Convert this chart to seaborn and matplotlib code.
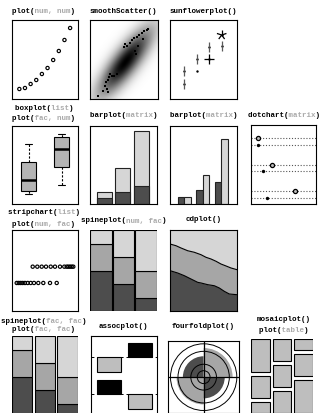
import numpy as np
import pandas as pd
import matplotlib
matplotlib.use("Agg")
import matplotlib.pyplot as plt
from matplotlib.patches import Rectangle, Wedge, Circle
from matplotlib.colors import LinearSegmentedColormap
import seaborn as sns

W, H, DPI = 322, 414, 100

# ---------------- data ----------------
scatter_x = list(range(1, 11))
scatter_y = [10, 11, 15, 19, 25, 31, 39, 48, 59, 71]

smooth_center = (35.0, 37.0)
smooth_angle = 53.0
smooth_spread = (20.0, 6.0)
smooth_x = [8.3, 13.3, 15, 16, 17.7, 19, 20, 21.7, 24.3, 26.7, 16.7, 18.3,
            34.3, 36.7, 40, 41.7, 44.3, 46.7, 49, 51.7, 54.3, 56.7, 58.3,
            45, 45.7, 48.3, 53.3, 35]
smooth_y = [3.3, 7.7, 13.3, 16.7, 19.3, 21.7, 25, 23.3, 23.3, 25, 10, 6.7,
            51.7, 53.3, 55.7, 59, 61, 62.3, 64.3, 65.7, 67.7, 69, 70,
            47.7, 45, 53.3, 60, 55]

sun_x = [1, 1, 2, 2, 3, 3, 4, 4]
sun_y = [28, 15, 28.3, 40, 52, 40, 53.3, 64]
sun_n = [2, 2, 1, 2, 2, 4, 2, 5]

box_a = [10, 12.7, 24, 41.7, 60]
box_b = [19.3, 37.3, 55, 66.7, 70]

bar_groups = ["A", "B", "C"]
bar_dark = [1, 2, 3]
bar_light = [1, 4, 9]

dot_open = [1, 4, 9]
dot_filled = [1, 2, 3]

strip_top = [20.7, 25.3, 29.7, 34, 38.7, 43, 48, 52.3, 54.7, 56.3, 58, 59.7, 61.3]
strip_bottom = [4.7, 6.7, 8.7, 10.7, 13, 15.7, 18.7, 22, 26.3, 31.3, 38, 44.7]

spine_dark = [3, 2, 1]
spine_mid = [2, 2, 2]
spine_light = [1, 2, 3]

cd_x_upper = [0, 6, 11, 17.7, 24.3, 31, 36, 41, 46, 51, 56, 61, 67]
cd_upper = [0.827, 0.806, 0.778, 0.744, 0.725, 0.695, 0.663, 0.642, 0.614,
            0.58, 0.556, 0.531, 0.51]
cd_x_lower = [0, 7.7, 14.3, 21, 27.7, 31, 37.7, 44.3, 49.3, 54.3, 59.3, 67]
cd_lower = [0.498, 0.469, 0.436, 0.395, 0.354, 0.346, 0.325, 0.312, 0.284,
            0.243, 0.21, 0.201]

assoc_resid = [[-1.0, 1.0], [1.0, -1.0]]

ff_counts = [34, 66, 58, 35]  # top-left, top-right, bottom-left, bottom-right

mosaic_props = [[3, 2, 1], [2, 2, 2], [1, 2, 3]]

# ---------------- style ----------------
DARK = "#4d4d4d"
MID = "#a6a6a6"
LIGHT = "#d6d6d6"
BOXFILL = "#b4b4b4"
MOSFILL = "#bebebe"
ARG = "#aaaaaa"
LW = 0.8

sns.set_theme(style="white")
plt.rcParams["axes.edgecolor"] = "black"
plt.rcParams["axes.linewidth"] = LW

fig = plt.figure(figsize=(W / DPI, H / DPI), dpi=DPI)


def panel(x0, y0, x1, y1, frame=True):
    ax = fig.add_axes([x0 / W, 1 - y1 / H, (x1 - x0) / W, (y1 - y0) / H])
    for s in ax.spines.values():
        s.set_visible(frame)
        s.set_color("black")
        s.set_linewidth(LW)
    ax.set_facecolor("white")
    return ax


def finish(ax):
    ax.set_xticks([])
    ax.set_yticks([])
    ax.set_xlabel("")
    ax.set_ylabel("")


FS = 5.4
CW = FS * DPI / 72 * 0.6


def title(cx, cy, parts):
    full = "".join(t for t, _ in parts)
    x = (cx - len(full) * CW / 2) / W
    for t_keep, c in parts:
        masked = "".join(t if (t == t_keep and cc == c) else " " * len(t)
                         for t, cc in parts)
        fig.text(x, 1 - cy / H, masked, color=c, fontsize=FS,
                 family="Liberation Mono", weight="bold", ha="left", va="center")


def call(name, args=None):
    if args is None:
        return [(name + "()", "black")]
    return [(name + "(", "black"), (args, ARG), (")", "black")]


C1, C2, C3, C4 = (12, 78), (90, 157), (170, 237), (251, 316)
MS = 5.5  # open circle marker size

# ---- plot(num, num) ----
ax = panel(C1[0], 21, C1[1], 100)
sns.scatterplot(x=scatter_x, y=scatter_y, ax=ax, s=MS, facecolor="none",
                edgecolor="black", linewidth=0.85)
ax.set_xlim(-0.3, 11.4)
ax.set_ylim(0, 79)
finish(ax)

# ---- smoothScatter() ----
ax = panel(C2[0], 21, 158, 100)
gx = np.linspace(0, 68, 137)
gy = np.linspace(0, 79, 159)
GX, GY = np.meshgrid(gx, gy)
th = np.deg2rad(smooth_angle)
u = (GX - smooth_center[0]) * np.cos(th) + (GY - smooth_center[1]) * np.sin(th)
v = -(GX - smooth_center[0]) * np.sin(th) + (GY - smooth_center[1]) * np.cos(th)
dens = np.exp(-0.5 * ((u / smooth_spread[0]) ** 2 + (v / smooth_spread[1]) ** 2))
ramp = LinearSegmentedColormap.from_list("ramp", ["white", "black"])
ax.imshow(dens ** 0.5, extent=(0, 68, 0, 79), origin="lower", cmap=ramp,
          vmin=0, vmax=1, aspect="auto", interpolation="bilinear")
sns.scatterplot(x=smooth_x, y=smooth_y, ax=ax, s=1.2, marker="s",
                color="black", linewidth=0)
ax.set_xlim(0, 68)
ax.set_ylim(0, 79)
finish(ax)

# ---- sunflowerplot() ----
ax = panel(C3[0], 21, C3[1], 100)
ax.set_xlim(-0.15, 5.23)
ax.set_ylim(0, 79)
petal_x = 5 / 12.45
petal_y = 5
for x, y, n in zip(sun_x, sun_y, sun_n):
    if n > 1:
        col = "#5a5a5a" if n == 2 else "black"
        for k in range(n):
            a = np.pi / 2 + 2 * np.pi * k / n
            ax.plot([x, x + petal_x * np.cos(a)], [y, y + petal_y * np.sin(a)],
                    color=col, lw=0.9, solid_capstyle="butt")
sns.scatterplot(x=sun_x, y=sun_y, ax=ax, s=3, color="black", linewidth=0)
finish(ax)

# ---- boxplot(list) ----
ax = panel(C1[0], 127, C1[1], 205)
box_df = pd.DataFrame({"group": ["a"] * len(box_a) + ["b"] * len(box_b),
                       "value": box_a + box_b})
sns.boxplot(data=box_df, x="group", y="value", ax=ax, color=BOXFILL,
            saturation=1, width=0.46, linecolor="black", linewidth=0.8,
            showfliers=False, whis=(0, 100),
            whiskerprops={"linestyle": (0, (2, 1.5))},
            medianprops={"linewidth": 1.8})
ax.set_xlim(-0.5, 1.5)
ax.set_ylim(0, 78)
finish(ax)

# ---- barplot(matrix), stacked ----
ax = panel(C2[0], 127, C2[1], 205)
bar_df = pd.DataFrame({"group": bar_groups, "dark": bar_dark, "light": bar_light})
bar_df["total"] = bar_df["dark"] + bar_df["light"]
sns.barplot(data=bar_df, x="group", y="total", ax=ax, color=LIGHT, saturation=1,
            width=0.82, errorbar=None, edgecolor="#222222", linewidth=0.8)
sns.barplot(data=bar_df, x="group", y="dark", ax=ax, color=DARK, saturation=1,
            width=0.82, errorbar=None, edgecolor="#222222", linewidth=0.8)
ax.set_xlim(-0.77, 2.85)
ax.set_ylim(0, 12.9)
finish(ax)

# ---- barplot(matrix), beside ----
ax = panel(C3[0], 127, C3[1], 205)
long_df = pd.DataFrame({"group": bar_groups * 2,
                        "series": ["dark"] * 3 + ["light"] * 3,
                        "value": bar_dark + bar_light})
sns.barplot(data=long_df, x="group", y="value", hue="series",
            hue_order=["dark", "light"], palette=[DARK, LIGHT], saturation=1,
            width=0.7, errorbar=None, edgecolor="#222222", linewidth=0.8,
            legend=False, ax=ax)
ax.set_xlim(-0.77, 2.85)
ax.set_ylim(0, 10.8)
finish(ax)

# ---- dotchart(matrix) ----
ax = panel(C4[0], 126, C4[1], 205)
rows_open = [10 - 4 * i for i in range(len(dot_open))]
rows_filled = [9 - 4 * i for i in range(len(dot_filled))]
for yy in rows_open + rows_filled:
    ax.axhline(yy, color="#555555", lw=0.8, linestyle=(0, (1, 1.6)))
sns.scatterplot(x=dot_open, y=rows_open, ax=ax, s=9, facecolor="#bdbdbd",
                edgecolor="black", linewidth=0.9, zorder=3)
sns.scatterplot(x=dot_filled, y=rows_filled, ax=ax, s=6, color="black",
                linewidth=0, zorder=3)
ax.set_xlim(-0.56, 13.67)
ax.set_ylim(0.05, 12.0)
finish(ax)

# ---- stripchart(list) ----
ax = panel(C1[0], 231, C1[1], 312)
sns.scatterplot(x=strip_bottom, y=[1] * len(strip_bottom), ax=ax, s=MS,
                facecolor="none", edgecolor="black", linewidth=0.85)
sns.scatterplot(x=strip_top, y=[2] * len(strip_top), ax=ax, s=MS,
                facecolor="none", edgecolor="black", linewidth=0.85)
ax.set_xlim(0, 66)
ax.set_ylim(-0.72, 4.25)
finish(ax)

# ---- spineplot(num, fac) ----
ax = panel(C2[0], 231, C2[1], 312, frame=False)
pos = np.arange(3)
tot = np.array(spine_dark) + np.array(spine_mid) + np.array(spine_light)
d = np.array(spine_dark) / tot
m = np.array(spine_mid) / tot
l = np.array(spine_light) / tot
ax.bar(pos, d, width=0.97, color=DARK, edgecolor="black", linewidth=0.8)
ax.bar(pos, m, bottom=d, width=0.97, color=MID, edgecolor="black", linewidth=0.8)
ax.bar(pos, l, bottom=d + m, width=0.97, color=LIGHT, edgecolor="black", linewidth=0.8)
ax.set_xlim(-0.5, 2.5)
ax.set_ylim(0, 1)
finish(ax)

# ---- cdplot() ----
ax = panel(C3[0], 231, C3[1], 312)
ax.fill_between([0, 67], 0, 1, color=LIGHT, lw=0)
ax.fill_between(cd_x_upper, 0, cd_upper, color=MID, lw=0)
ax.fill_between(cd_x_lower, 0, cd_lower, color=DARK, lw=0)
ax.plot(cd_x_upper, cd_upper, color="black", lw=0.8)
ax.plot(cd_x_lower, cd_lower, color="black", lw=0.8)
ax.set_xlim(0, 67)
ax.set_ylim(0, 1)
finish(ax)

# ---- spineplot(fac, fac) ----
ax = panel(C1[0], 337.3, C1[1], 418, frame=False)
ax.bar(pos, d, width=0.89, color=DARK, edgecolor="black", linewidth=0.8)
ax.bar(pos, m, bottom=d, width=0.89, color=MID, edgecolor="black", linewidth=0.8)
ax.bar(pos, l, bottom=d + m, width=0.89, color=LIGHT, edgecolor="black", linewidth=0.8)
ax.set_xlim(-0.45, 2.46)
ax.set_ylim(0, 1)
finish(ax)

# ---- assocplot() ----
ax = panel(90.7, 336.7, 156.7, 418)
ax.set_xlim(0, 66)
ax.set_ylim(81.3, 0)
base_rows = [21.6, 58.3]
col_mid = [18, 48.8]
unit_h = 14.5
for r, yb in enumerate(base_rows):
    ax.plot([0, 66], [yb, yb], color="black", lw=0.7, linestyle=(0, (3, 3)), zorder=1)
    for c, xc in enumerate(col_mid):
        val = assoc_resid[r][c]
        col = "black" if val > 0 else MOSFILL
        ax.add_patch(Rectangle((xc - 12, yb - val * unit_h), 24, val * unit_h,
                               facecolor=col, edgecolor="black", lw=0.8, zorder=2))
finish(ax)

# ---- fourfoldplot() ----
ax = panel(168, 342.3, 239.3, 414)
ax.set_xlim(-1, 1)
ax.set_ylim(-1, 1)
quad_angles = [(90, 180), (0, 90), (180, 270), (270, 360)]
quad_cols = [DARK, MID, MID, DARK]
for cnt, (a0, a1), col in zip(ff_counts, quad_angles, quad_cols):
    r = np.sqrt(cnt / 100)
    ax.add_patch(Wedge((0, 0), r, a0, a1, facecolor=col, edgecolor="none"))
for rr in (0.93, 0.72, 0.36, 0.18):
    ax.add_patch(Circle((0, 0), rr, facecolor="none", edgecolor="black", lw=0.7))
ax.axhline(0, color="black", lw=0.9)
ax.axvline(0, color="black", lw=0.9)
finish(ax)

# ---- mosaicplot() ----
ax = panel(251, 340, 313, 418, frame=False)
ax.set_xlim(0, 62)
ax.set_ylim(78, 0)
col_w, gap_x, gap_y, col_h = 18.5, 3.2, 4.4, 65
for i, props in enumerate(mosaic_props):
    x0 = i * (col_w + gap_x)
    y0 = 0
    tot_p = sum(props)
    for p in props:
        hh = col_h * p / tot_p
        ax.add_patch(Rectangle((x0, y0), col_w, hh, facecolor=MOSFILL,
                               edgecolor="black", lw=0.8))
        y0 += hh + gap_y
finish(ax)

# ---------------- titles ----------------
X1, X2, X3, X4 = 44, 123.5, 203.5, 284
title(X1, 11.7, call("plot", "num, num"))
title(X2, 11.7, call("smoothScatter"))
title(X3, 11.7, call("sunflowerplot"))
title(X1, 109, call("boxplot", "list"))
title(X1, 119, call("plot", "fac, num"))
title(X2, 115.7, call("barplot", "matrix"))
title(X3, 115.7, call("barplot", "matrix"))
title(X4, 115.7, call("dotchart", "matrix"))
title(X1, 213, call("stripchart", "list"))
title(X1, 225, call("plot", "num, fac"))
title(X2, 221, call("spineplot", "num, fac"))
title(X3, 220, call("cdplot"))
title(X1, 321.7, call("spineplot", "fac, fac"))
title(X1, 330, call("plot", "fac, fac"))
title(X2, 326.7, call("assocplot"))
title(X3, 326, call("fourfoldplot"))
title(X4, 320, call("mosaicplot"))
title(X4, 330.7, call("plot", "table"))

fig.savefig("out.png", dpi=DPI)
